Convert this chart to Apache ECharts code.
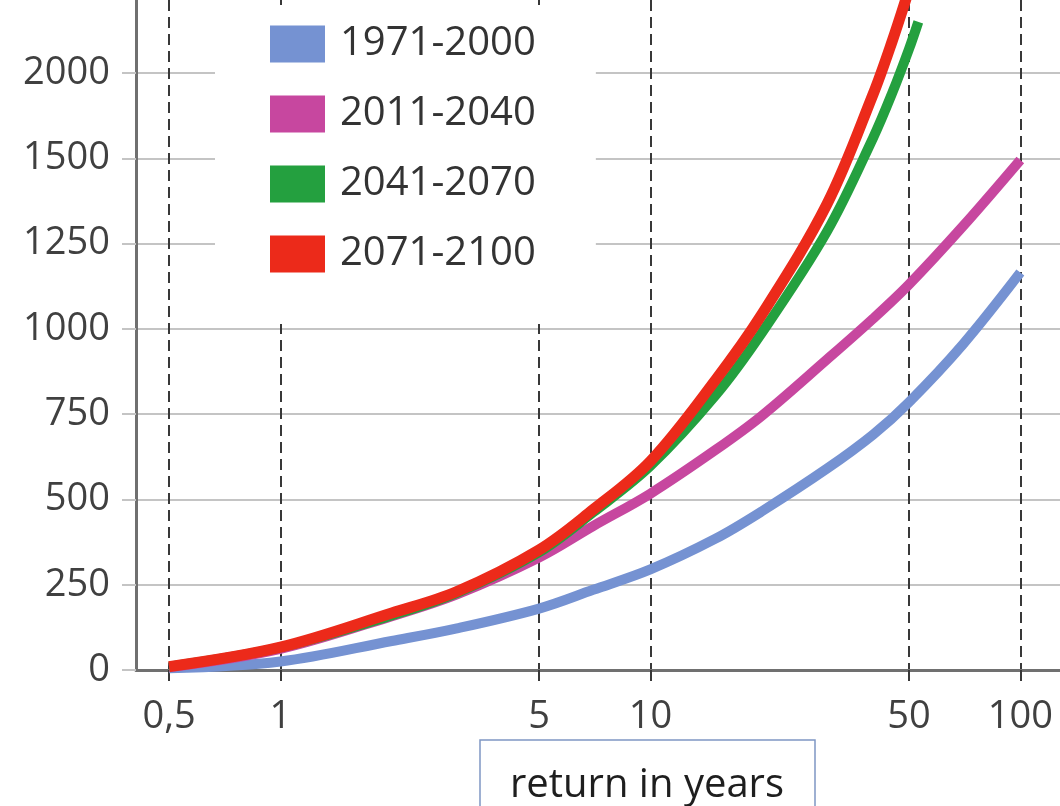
<!DOCTYPE html>
<html>
<head>
<meta charset="utf-8">
<script src="https://cdn.jsdelivr.net/npm/echarts@6/dist/echarts.min.js"></script>
<style>html,body{margin:0;padding:0;background:#fff;}#chart{width:1060px;height:806px;}</style>
</head>
<body>
<div id="chart"></div>
<script>
// Return periods (years) and curve values.
// Y values are on the chart's linear vertical scale (250 per gridline step).
const seriesNames = ['1971-2000', '2011-2040', '2041-2070', '2071-2100'];

const xBlue  = [0.5, 1, 2, 3, 5, 7, 10, 15, 20, 30, 40, 50, 70, 100];
const yBlue  = [5, 25, 85, 122, 180, 235, 295, 385, 465, 590, 690, 785, 955, 1165];

const xPink  = [0.5, 1, 2, 3, 5, 7, 10, 15, 20, 30, 40, 50, 70, 100];
const yPink  = [8, 62, 158, 222, 330, 422, 517, 645, 745, 910, 1030, 1130, 1301, 1495];

const xGreen = [0.5, 1, 2, 3, 5, 7, 10, 15, 20, 30, 40, 45, 50, 53];
const yGreen = [10, 66, 160, 226, 345, 462, 598, 805, 988, 1285, 1560, 1690, 1820, 1900];

const xRed   = [0.5, 1, 2, 3, 5, 7, 10, 15, 20, 30, 40, 45, 50];
const yRed   = [10, 67, 167, 230, 352, 470, 612, 850, 1042, 1365, 1688, 1842, 1995];

const xTickValues = [0.5, 1, 5, 10, 50, 100];
const xTickLabels = ['0,5', '1', '5', '10', '50', '100'];
const yTickValues = [0, 250, 500, 750, 1000, 1250, 1500, 1750];
const yTickLabels = ['0', '250', '500', '750', '1000', '1250', '1500', '2000'];
const xAxisTitle = 'return in years';

const colors = ['#7592d2', '#c7479f', '#24a03f', '#ec2a1a'];

function pairs(xs, ys) { return xs.map((x, i) => [x, ys[i]]); }

const chart = echarts.init(document.getElementById('chart'), null, {renderer: 'canvas'});
const fontFam = '"Open Sans", "DejaVu Sans", sans-serif';
const dash = {color: '#383838', width: 2, type: [11, 6]};

function xLabel(v) {
  for (let i = 0; i < xTickValues.length; i++) {
    if (Math.abs(Math.log10(v) - Math.log10(xTickValues[i])) < 1e-6) return xTickLabels[i];
  }
  return '';
}
function yLabel(v) {
  const i = yTickValues.indexOf(Math.round(v));
  return i >= 0 ? yTickLabels[i] : '';
}

const mk = (name, data, color, width) => ({
  name, type: 'line', data, smooth: 0.35, showSymbol: false, symbol: 'none',
  lineStyle: {color, width, cap: 'butt'}, itemStyle: {color}, clip: true
});

chart.setOption({
  animation: false,
  backgroundColor: '#ffffff',
  grid: {left: 136, right: 0, top: 0, bottom: 136, containLabel: false},
  legend: {
    data: seriesNames, orient: 'vertical', left: 215, top: 5,
    padding: [19, 60, 50, 55], backgroundColor: '#ffffff',
    icon: 'rect', itemWidth: 55, itemHeight: 37, itemGap: 30,
    textStyle: {fontSize: 40, fontFamily: fontFam, color: '#333', padding: [0, 0, 0, 10]}
  },
  xAxis: {
    type: 'log', logBase: 10, min: 0.407, max: 128,
    axisLine: {show: true, onZero: false, lineStyle: {color: '#707070', width: 3}},
    axisTick: {show: true, customValues: xTickValues, length: 15, lineStyle: dash},
    axisLabel: {customValues: xTickValues, formatter: xLabel, margin: 28,
      fontSize: 38, fontFamily: fontFam, color: '#404040'},
    splitLine: {show: true, lineStyle: dash},
    minorTick: {show: false}, minorSplitLine: {show: false}
  },
  yAxis: {
    type: 'value', min: 0, max: 1964, interval: 250,
    axisLine: {show: true, lineStyle: {color: '#707070', width: 3}},
    axisTick: {show: true, customValues: yTickValues, length: 14, lineStyle: {color: '#c4c4c4', width: 2}},
    axisLabel: {customValues: yTickValues, formatter: yLabel, margin: 26,
      fontSize: 38, fontFamily: fontFam, color: '#404040'},
    splitLine: {show: true, lineStyle: {color: '#c4c4c4', width: 2}}
  },
  series: [
    mk(seriesNames[0], pairs(xBlue, yBlue), colors[0], 10),
    mk(seriesNames[1], pairs(xPink, yPink), colors[1], 10),
    mk(seriesNames[2], pairs(xGreen, yGreen), colors[2], 10),
    mk(seriesNames[3], pairs(xRed, yRed), colors[3], 11)
  ],
  graphic: [
    {type: 'rect', x: 480, y: 740, shape: {x: 0, y: 0, width: 335, height: 80},
     style: {fill: '#fff', stroke: '#7f97c4', lineWidth: 1.5}, z: 10},
    {type: 'text', x: 647, y: 786, z: 11,
     style: {text: xAxisTitle, fontSize: 40, fontFamily: fontFam, fill: '#1e1e1e',
             align: 'center', verticalAlign: 'middle'}}
  ]
});
</script>
</body>
</html>
